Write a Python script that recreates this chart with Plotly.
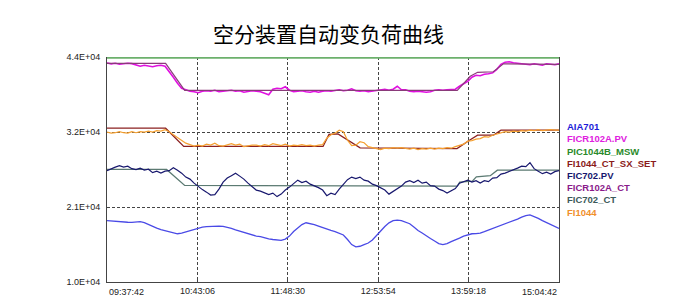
import plotly.graph_objects as go
import pandas as pd

DAY = "2024-01-01 "

# ---------------- data ----------------
start_time = "09:37:42"
end_time = "15:04:42"
sample_count = 110          # one sample every 3 minutes
sample_step = "3min"

x_tick_labels = ["09:37:42", "10:43:06", "11:48:30", "12:53:54", "13:59:18", "15:04:42"]
y_tick_values = [10000, 21333.33, 32666.67, 44000]
y_tick_labels = ["1.0E+04", "2.1E+04", "3.2E+04", "4.4E+04"]

aia701 = [19280, 19210, 19130, 19090, 19060, 19030, 19010, 19090, 19130, 18980, 18680, 18450, 18150, 17920,
          17770, 17580, 17400, 17290, 17370, 17550, 17740, 17920, 18150, 18300, 18380, 18420, 18450, 18450,
          18410, 18300, 18110, 17890, 17700, 17500, 17280, 17100, 16940, 16870, 16640, 16520, 16420, 16340,
          16300, 16490, 16940, 17620, 18150, 18680, 18950, 18860, 18680, 18450, 18200, 18000, 17800, 17620,
          17400, 17100, 16420, 15660, 15310, 15400, 15660, 15890, 16340, 17100, 17700, 18380, 18940, 19280,
          19360, 19280, 19060, 18800, 18300, 17770, 17400, 16940, 16570, 16190, 15810, 15660, 15810, 16110,
          16340, 16640, 16940, 17170, 17290, 17320, 17400, 17620, 17850, 18080, 18300, 18530, 18800, 18980,
          19210, 19510, 19810, 20040, 20140, 19930, 19620, 19280, 18980, 18680, 18330, 18080]

ficr102a_pv = [43100, 42970, 43050, 42900, 42970, 43050, 43000, 42820, 42600, 42750, 42600, 42520, 42670, 42750,
               42600, 41840, 40940, 40030, 39280, 39050, 38820, 38750, 38600, 38820, 38900, 38820, 38980, 38750,
               38820, 38900, 38980, 38820, 38900, 38670, 38820, 38900, 38820, 38750, 38520, 38300, 39130, 39280,
               39200, 39500, 38980, 38750, 38820, 38900, 38750, 38670, 38820, 38670, 38820, 38900, 38820, 38980,
               39050, 38900, 38980, 39200, 38900, 38820, 38900, 38750, 38820, 38900, 39050, 39130, 38980, 39130,
               39580, 39050, 39050, 38820, 38750, 38820, 38750, 38670, 38750, 38980, 39050, 38980, 39050, 39050,
               39130, 39580, 39960, 40330, 40940, 41240, 41160, 41390, 41470, 41620, 42140, 42900, 43200, 43280,
               43130, 43050, 43050, 42900, 42820, 42970, 42900, 42750, 42970, 42900, 42820, 42970]

fic702_pv = [26830, 27130, 27360, 27580, 27360, 27510, 27130, 26980, 27210, 26900, 27050, 26530, 26750, 26450,
             26750, 26830, 27280, 26900, 26450, 25850, 25550, 24940, 24410, 23960, 23580, 23130, 23210, 24040,
             25090, 25700, 26070, 26450, 26000, 25550, 24940, 24410, 23890, 23730, 23510, 23210, 23430, 22900,
             23280, 23890, 24340, 24940, 25390, 25020, 25240, 24790, 24560, 24260, 23890, 23050, 23430, 23210,
             24040, 24790, 25470, 25850, 25620, 25850, 25390, 25240, 24790, 24560, 24260, 23890, 23280, 23660,
             24110, 24490, 25090, 25320, 25020, 25390, 24940, 25090, 24560, 24490, 24040, 23810, 23430, 23730,
             24110, 24940, 25170, 25390, 25090, 25320, 24940, 25320, 25170, 25700, 25770, 26300, 26450, 26680,
             26900, 27210, 27510, 27430, 28040, 27130, 26750, 26370, 26600, 26300, 26680, 26830]

fi1044 = [32640, 32490, 32560, 32710, 32560, 32490, 32710, 32560, 32710, 32640, 32790, 32640, 32860, 32790,
          33020, 32710, 32260, 31810, 31430, 30980, 30750, 30530, 30680, 30530, 30830, 30680, 30980, 30600,
          30530, 30750, 30900, 30680, 30830, 30450, 30600, 30680, 30680, 30530, 30750, 30600, 30900, 30750,
          30600, 30830, 30530, 30680, 30600, 30750, 30600, 30680, 30530, 30680, 30750, 31730, 32260, 32490,
          32940, 32710, 31430, 30600, 30680, 31200, 31050, 30450, 30300, 30150, 30000, 30220, 30150, 30300,
          30220, 30300, 30150, 30070, 30220, 30000, 30150, 30070, 30220, 30070, 30220, 30150, 30300, 30220,
          30450, 30600, 30830, 31280, 31360, 31580, 31660, 31960, 31880, 32180, 32340, 32560, 32710, 32640,
          32790, 32710, 32860, 32790, 32940, 32860, 33020, 32860, 32940, 33020, 32940, 32940]

pic1044b_msw_times = ["09:37:42", "15:04:42"]
pic1044b_msw = [44000, 44000]

fi1044_ct_sx_set_times = ["09:37:42", "10:20:06", "10:33:12", "12:14:00", "12:18:18", "12:24:48", "12:40:48",
                          "13:50:54", "14:00:30", "14:05:48", "14:17:12", "14:22:42", "15:04:42"]
fi1044_ct_sx_set = [33240, 33240, 30480, 30480, 32290, 32380, 30270, 30150, 31500, 32185, 32185, 32940, 32940]

ficr102a_ct_times = ["09:37:42", "10:20:06", "10:33:54", "13:51:06", "14:00:30", "14:05:48", "14:17:12",
                     "14:24:30", "15:04:42"]
ficr102a_ct = [43050, 43050, 38970, 38970, 41090, 41690, 41770, 42970, 42900]

fic702_ct_times = ["09:37:42", "10:20:48", "10:33:54", "13:51:06", "13:52:54", "14:02:00", "14:04:54",
                   "14:15:00", "14:20:06", "15:04:42"]
fic702_ct = [27010, 27010, 24600, 24490, 25090, 25240, 25890, 26070, 26900, 26900]

legend_names = ["AIA701", "FICR102A.PV", "PIC1044B_MSW", "FI1044_CT_SX_SET",
                "FIC702.PV", "FICR102A_CT", "FIC702_CT", "FI1044"]
legend_colors = ["#1c1cd8", "#e020e0", "#2a8a2a", "#8b1a1a", "#16166e", "#8a1a8a", "#3c5a5a", "#f0902c"]

# ---------------- figure ----------------
def t(s):
    return pd.to_datetime(DAY + s)

sample_times = pd.date_range(DAY + start_time, periods=sample_count, freq=sample_step)

fig = go.Figure()

def add(x, y, color, width):
    fig.add_trace(go.Scatter(x=x, y=y, mode="lines", line=dict(color=color, width=width),
                             hoverinfo="skip", showlegend=False))

add([t(s) for s in fic702_ct_times], fic702_ct, "#5b7a72", 1.3)
add([t(s) for s in fi1044_ct_sx_set_times], fi1044_ct_sx_set, "#8b2020", 1.3)
add(sample_times, aia701, "#4a4ae6", 1.3)
add(sample_times, fic702_pv, "#18186e", 1.2)
add(sample_times, fi1044, "#f5a030", 1.2)
add(sample_times, ficr102a_pv, "#e010e0", 1.6)
add([t(s) for s in ficr102a_ct_times], ficr102a_ct, "#8a3a7a", 1.2)
add([t(s) for s in pic1044b_msw_times], pic1044b_msw, "#6cb06c", 3.5)

x_tick_dates = [t(s) for s in x_tick_labels]

fig.update_layout(
    width=700, height=298,
    margin=dict(l=107, r=141, t=57, b=16, autoexpand=False),
    paper_bgcolor="white", plot_bgcolor="white",
    showlegend=False,
    font=dict(family="Liberation Sans", size=9, color="#222222"),
    xaxis=dict(
        type="date",
        range=[x_tick_dates[0], x_tick_dates[-1]],
        tickvals=x_tick_dates[1:-1], ticktext=x_tick_labels[1:-1],
        ticks="inside", ticklen=5, tickcolor="#444444",
        showgrid=True, gridcolor="#444444", griddash="3px,2px", gridwidth=1,
        showline=True, linecolor="#444444", linewidth=1, mirror=False,
        zeroline=False, tickfont=dict(size=9, color="#222222"), automargin=False,
    ),
    yaxis=dict(
        range=[y_tick_values[0], y_tick_values[-1]],
        tickvals=y_tick_values, ticktext=y_tick_labels,
        ticks="", showgrid=True, gridcolor="#444444", griddash="3px,2px", gridwidth=1,
        showline=True, linecolor="#444444", linewidth=1, mirror=True,
        zeroline=False, tickfont=dict(size=9, color="#222222"), ticklabelstandoff=4,
        automargin=False,
    ),
)

# end labels of the time axis, kept inside the plot width as in the original
fig.add_annotation(x=x_tick_dates[0], y=0, xref="x", yref="paper", text=x_tick_labels[0],
                   xanchor="left", yanchor="top", yshift=-3, showarrow=False,
                   font=dict(size=9, color="#222222"))
fig.add_annotation(x=x_tick_dates[-1], y=0, xref="x", yref="paper", text=x_tick_labels[-1],
                   xanchor="right", yanchor="top", yshift=-3, showarrow=False,
                   font=dict(size=9, color="#222222"))

# title
fig.add_annotation(x=(328.5 - 107) / 452, y=(282 - 33) / 225, xref="paper", yref="paper",
                   text="空分装置自动变负荷曲线", showarrow=False, xanchor="center", yanchor="middle",
                   font=dict(family="Noto Sans CJK SC", size=21, color="#000000"))

# legend text
for i, (name, color) in enumerate(zip(legend_names, legend_colors)):
    ypix = 126.7 + i * 12.2
    fig.add_annotation(x=(565 - 107) / 452, y=(282 - ypix) / 225, xref="paper", yref="paper",
                       text="<b>" + name + "</b>", showarrow=False, xanchor="left", yanchor="middle",
                       font=dict(family="Liberation Sans", size=9.5, color=color))

fig.write_html("out.html")
